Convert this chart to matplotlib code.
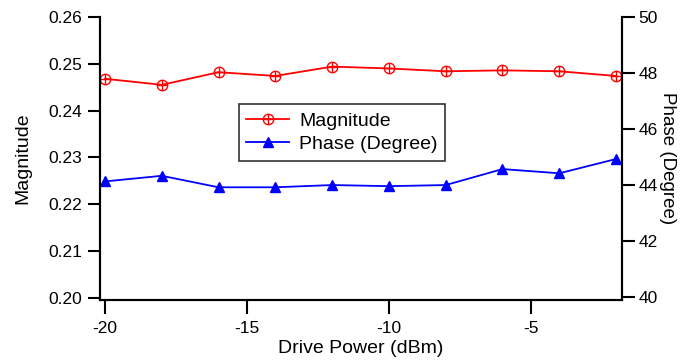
import matplotlib
matplotlib.use("Agg")
import matplotlib.pyplot as plt
from matplotlib.legend_handler import HandlerTuple

plt.rcParams['font.family'] = ['Liberation Sans', 'DejaVu Sans']

drive_power = [-20, -18, -16, -14, -12, -10, -8, -6, -4, -2]
magnitude = [0.2468, 0.2455, 0.2482, 0.2474, 0.2494, 0.2490, 0.2484, 0.2486, 0.2484, 0.2474]
phase = [44.13, 44.33, 43.92, 43.92, 44.00, 43.96, 44.00, 44.57, 44.42, 44.93]
x_ticks = [-20, -15, -10, -5]
mag_ticks = [0.20, 0.21, 0.22, 0.23, 0.24, 0.25, 0.26]
phase_ticks = [40, 42, 44, 46, 48, 50]

fig = plt.figure(figsize=(6.84, 3.63), dpi=100)
ax = fig.add_axes([0.146, 0.174, 0.763, 0.779])
ax2 = ax.twinx()

red = '#ff0000'
blue = '#0000ff'
l1, = ax.plot(drive_power, magnitude, color=red, lw=1.3, marker='o', ms=7.5,
              mfc='none', mec=red, mew=1.0)
l1b, = ax.plot(drive_power, magnitude, color=red, lw=0, marker='+', ms=6.5, mew=1.0)
l2, = ax2.plot(drive_power, phase, color=blue, lw=1.3, marker='^', ms=7.5,
               mfc=blue, mec=blue)

ax.set_xlim(-20.18, -1.8)
ax.set_ylim(0.1995, 0.26)
ax2.set_ylim(39.9, 50)
ax.set_xticks(x_ticks)
ax.set_xticklabels([str(t) for t in x_ticks])
ax.set_yticks(mag_ticks)
ax.set_yticklabels([f"{t:.2f}" for t in mag_ticks])
ax2.set_yticks(phase_ticks)
ax2.set_yticklabels([str(t) for t in phase_ticks])

for a in (ax, ax2):
    a.spines['top'].set_visible(False)
    for s in a.spines.values():
        s.set_linewidth(1.5)
ax.tick_params(axis='both', direction='out', length=9, width=1.5, labelsize=12.5, pad=4)
ax.tick_params(axis='x', length=10, pad=5)
ax2.tick_params(axis='y', direction='out', length=9, width=1.5, labelsize=12.5, pad=3)

ax.set_xlabel('Drive Power (dBm)', fontsize=14, labelpad=3)
ax.set_ylabel('Magnitude', fontsize=14, labelpad=12)
ax2.set_ylabel('Phase (Degree)', fontsize=13.5, rotation=-90, labelpad=13)

leg = ax.legend([(l1, l1b), l2], ['Magnitude', 'Phase (Degree)'],
                handler_map={tuple: HandlerTuple(ndivide=1, pad=0)},
                loc='upper left', bbox_to_anchor=(0.266, 0.692),
                fontsize=14, frameon=True, fancybox=False, edgecolor='black',
                handlelength=2.2, borderpad=0.4, labelspacing=0.3,
                handletextpad=0.5, borderaxespad=0)
leg.get_frame().set_linewidth(1.2)

fig.savefig('out.png', dpi=100)
